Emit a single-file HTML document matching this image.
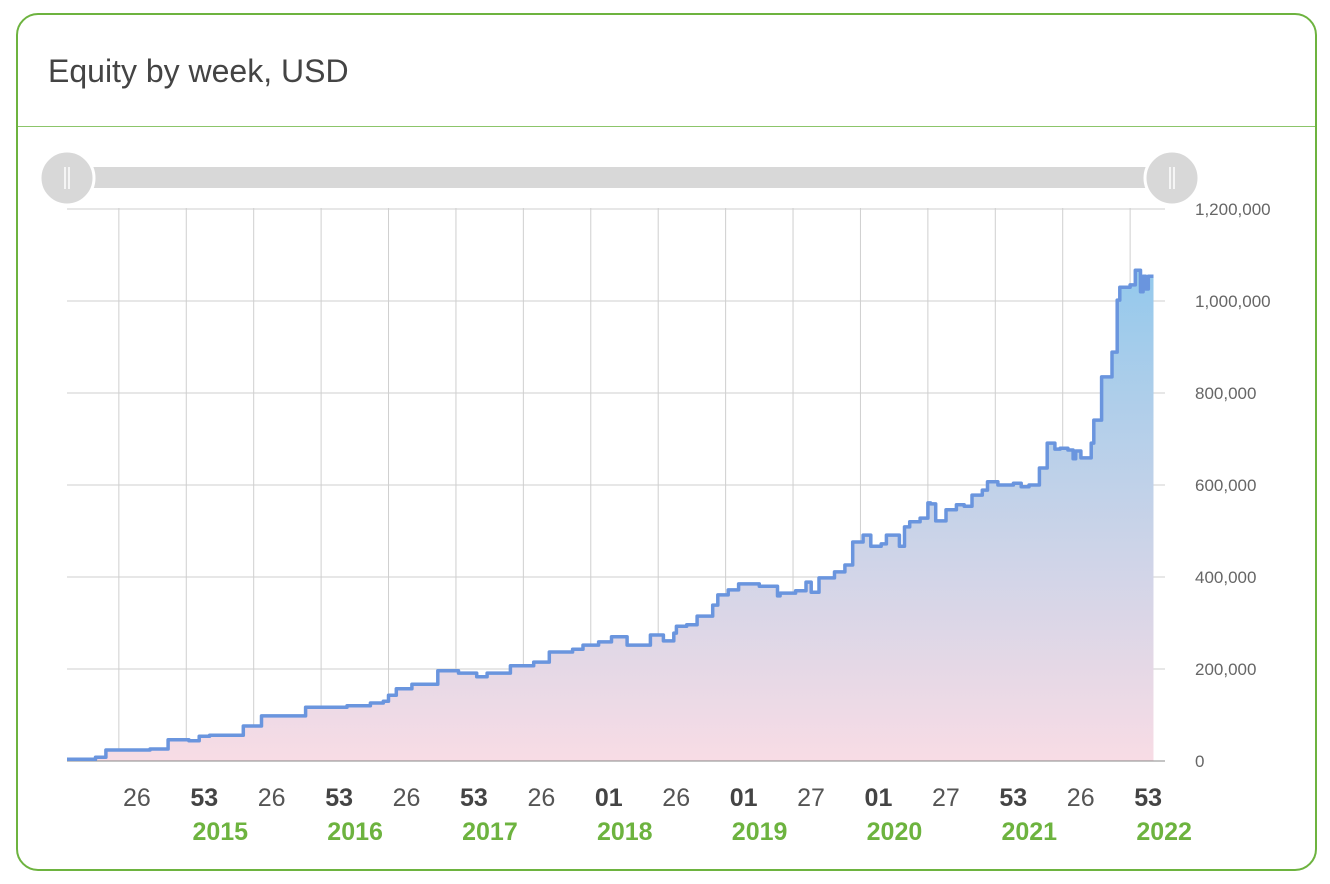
<!DOCTYPE html>
<html><head><meta charset="utf-8">
<style>
html,body{margin:0;padding:0;background:#fff;width:1330px;height:884px;overflow:hidden;font-family:"Liberation Sans",sans-serif}
.card{position:absolute;left:16px;top:13px;width:1301px;height:858px;border:2px solid #6db33f;border-radius:22px;box-sizing:border-box}
.title{position:absolute;left:30px;top:38px;font-size:32px;color:#444}
.divider{position:absolute;left:0;right:0;top:111px;height:1px;background:#8cc56a}
svg{position:absolute;left:0;top:0}
</style></head><body>
<div class="card">
<div class="title">Equity by week, USD</div>
<div class="divider"></div>
</div>
<svg id="chart" width="1330" height="884">
<defs><linearGradient id="fillg" x1="0" y1="0" x2="0" y2="1">
<stop offset="0" stop-color="#94c9ec"/><stop offset="1" stop-color="#f8dce5"/></linearGradient></defs>
</svg>
<script>
const weeks=[0,11,15,20,32,39,47,51,55,67,68,72,75,90,92,98,108,117,122,124,127,133,143,151,158,162,171,180,186,195,199,205,210,216,225,230,234,235,239,243,249,251,255,259,267,270,274,275,281,285,287,290,296,300,303,307,310,314,316,321,323,325,329,332,333,335,339,343,346,349,353,355,359,365,368,371,375,378,381,383,386,388,389,391,395,396,399,400,403,405,406,410,412,414,415,416,417,419];
const values=[4,8,24,24,26,46,44,54,56,56,76,76,98,98,117,117,120,126,130,143,157,167,196,191,183,191,207,215,237,243,252,259,270,252,274,261,278,293,296,315,339,361,372,385,380,380,359,365,370,389,367,398,411,426,476,491,467,472,491,467,509,520,528,561,559,522,546,557,554,578,589,607,600,604,596,600,637,691,678,680,676,657,674,659,691,741,835,835,889,1002,1030,1035,1067,1020,1054,1026,1054,1054];
const yTicks=[0,200000,400000,600000,800000,1000000,1200000];
const tickWeeks=[20,46,72,98,124,150,176,202,228,254,280,306,332,358,384,410];
const tickLabels=['26','53','26','53','26','53','26','01','26','01','27','01','27','53','26','53'];
const yearLabels=['','2015','','2016','','2017','','2018','','2019','','2020','','2021','','2022'];
const ns='http://www.w3.org/2000/svg';
const svg=document.getElementById('chart');
const X=w=>67+w*2.593;
const Y=v=>761-v/1200000*552;
function mk(t,a){const e=document.createElementNS(ns,t);for(const k in a)e.setAttribute(k,a[k]);svg.appendChild(e);return e;}
let s=mk('rect',{x:67,y:167,width:1105,height:21,fill:'#d8d8d8'});


[67,1172].forEach((cx,i)=>{
 const c=mk('circle',{cx:cx,cy:178,r:27,fill:'#d8d8d8',stroke:'#fff','stroke-width':3});
 
 
 mk('line',{x1:cx-2,y1:167,x2:cx-2,y2:189,stroke:'#fff','stroke-width':1.5});
 mk('line',{x1:cx+2,y1:167,x2:cx+2,y2:189,stroke:'#fff','stroke-width':1.5});
});
yTicks.forEach(v=>{
 const g=mk('line',{x1:67,x2:1165,y1:Y(v),y2:Y(v),stroke:v?'#cfcfcf':'#888','stroke-width':1});
 
 
 const t=mk('text',{x:1195,y:Y(v)+6,'font-size':17,fill:'#666'});
 t.textContent=v.toLocaleString('en-US');
 
 
});
tickWeeks.forEach((w,i)=>{
 const g=mk('line',{x1:X(w),x2:X(w),y1:208,y2:761,stroke:'#cfcfcf','stroke-width':1});
 
 
 const bold=tickLabels[i]==='53'||tickLabels[i]==='01';
 const t=mk('text',{x:X(w)+18,y:806,'font-size':25,'text-anchor':'middle',fill:bold?'#444':'#555','font-weight':bold?'bold':'normal'});
 t.textContent=tickLabels[i];
 
 
 if(yearLabels[i]){
  const y=mk('text',{x:X(w)+34,y:840,'font-size':25,'text-anchor':'middle',fill:'#6db33f','font-weight':'bold'});
  y.textContent=yearLabels[i];
  
  
 }
});
let d='';
weeks.forEach((w,i)=>{
 const x=X(w).toFixed(1),y=Y(values[i]*1000).toFixed(1);
 if(!i)d+='M'+x+','+y;
 else d+='L'+x+','+Y(values[i-1]*1000).toFixed(1)+'L'+x+','+y;
});
const area=mk('path',{d:d+'L'+X(weeks[weeks.length-1])+','+Y(0)+'L'+X(weeks[0])+','+Y(0)+'Z',fill:'url(#fillg)'});


mk('line',{x1:67,x2:1165,y1:Y(0),y2:Y(0),stroke:'#888','stroke-width':1});
const line=mk('path',{d:d,fill:'none',stroke:'#6a95de','stroke-width':3.5,'stroke-linejoin':'round'});


</script>
</body></html>
